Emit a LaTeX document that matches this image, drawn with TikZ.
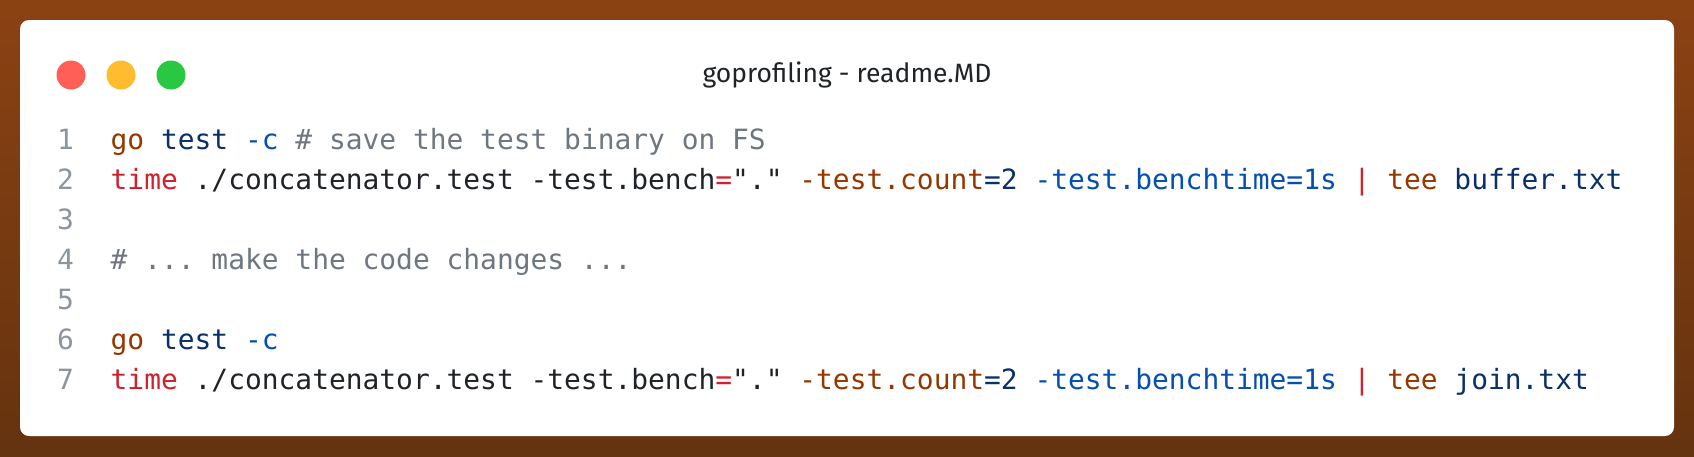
\documentclass[tikz,border=0pt]{standalone}
\usepackage{fontspec}
\setmainfont{DejaVu Sans}
\setmonofont{DejaVu Sans Mono}
\newfontfamily\titlefont{Fira Sans}
\definecolor{bgtop}{RGB}{139,66,19}
\definecolor{bgbot}{RGB}{100,51,15}
\definecolor{kwred}{RGB}{207,34,46}
\definecolor{kwbrown}{RGB}{149,56,0}
\definecolor{kwnavy}{RGB}{10,48,105}
\definecolor{kwblue}{RGB}{5,80,174}
\definecolor{cmgray}{RGB}{110,119,129}
\definecolor{txtdark}{RGB}{31,35,40}
\definecolor{lngray}{RGB}{140,149,159}
\definecolor{dotred}{RGB}{255,95,87}
\definecolor{dotyellow}{RGB}{254,188,46}
\definecolor{dotgreen}{RGB}{40,200,64}
\newcommand{\Rd}[1]{\textcolor{kwred}{#1}}
\newcommand{\Br}[1]{\textcolor{kwbrown}{#1}}
\newcommand{\Nv}[1]{\textcolor{kwnavy}{#1}}
\newcommand{\Bl}[1]{\textcolor{kwblue}{#1}}
\newcommand{\Gy}[1]{\textcolor{cmgray}{#1}}
\tikzset{
  codeline/.style={anchor=base west, inner sep=0pt, outer sep=0pt, text=txtdark,
    font=\ttfamily\fontsize{27.9}{40}\selectfont},
  linenum/.style={anchor=base west, inner sep=0pt, outer sep=0pt, text=lngray,
    font=\ttfamily\fontsize{27.9}{40}\selectfont},
  dot/.style={circle, inner sep=0pt, minimum size=29pt},
  titletext/.style={anchor=base, inner sep=0pt, text=txtdark,
    font=\titlefont\fontsize{26.5}{30}\selectfont}
}
\begin{document}
\begin{tikzpicture}[x=1pt,y=-1pt]
\useasboundingbox (0,0) rectangle (1694,456);
\shade[top color=bgtop, bottom color=bgbot] (0,0) rectangle (1694,456);
\fill[white, rounded corners=9pt] (20,20) rectangle (1674,436);
\node[dot, fill=dotred] (d1) at (71,75) {};
\node[dot, fill=dotyellow] (d2) at (121,75) {};
\node[dot, fill=dotgreen] (d3) at (171,75) {};
\node[titletext] (title) at (847,82) {goprofiling - readme.MD};
% line numbers
\foreach \n in {1,...,7}{
  \node[linenum] (n\n) at (57,{149+40*(\n-1)}) {\n};
}
\node[codeline] (l1) at (110.7,149) {\Br{go} \Nv{test} \Bl{-c} \Gy{\# save the test binary on FS}};
\node[codeline] (l2) at (110.7,189) {\Rd{time} ./concatenator.test -test.bench\Rd{=}"." \Br{-test.count}\Nv{=2} \Bl{-test.benchtime=1s} \Rd{|} \Br{tee} \Nv{buffer.txt}};
\node[codeline] (l4) at (110.7,269) {\Gy{\# ... make the code changes ...}};
\node[codeline] (l6) at (110.7,349) {\Br{go} \Nv{test} \Bl{-c}};
\node[codeline] (l7) at (110.7,389) {\Rd{time} ./concatenator.test -test.bench\Rd{=}"." \Br{-test.count}\Nv{=2} \Bl{-test.benchtime=1s} \Rd{|} \Br{tee} \Nv{join.txt}};
\end{tikzpicture}
\end{document}
